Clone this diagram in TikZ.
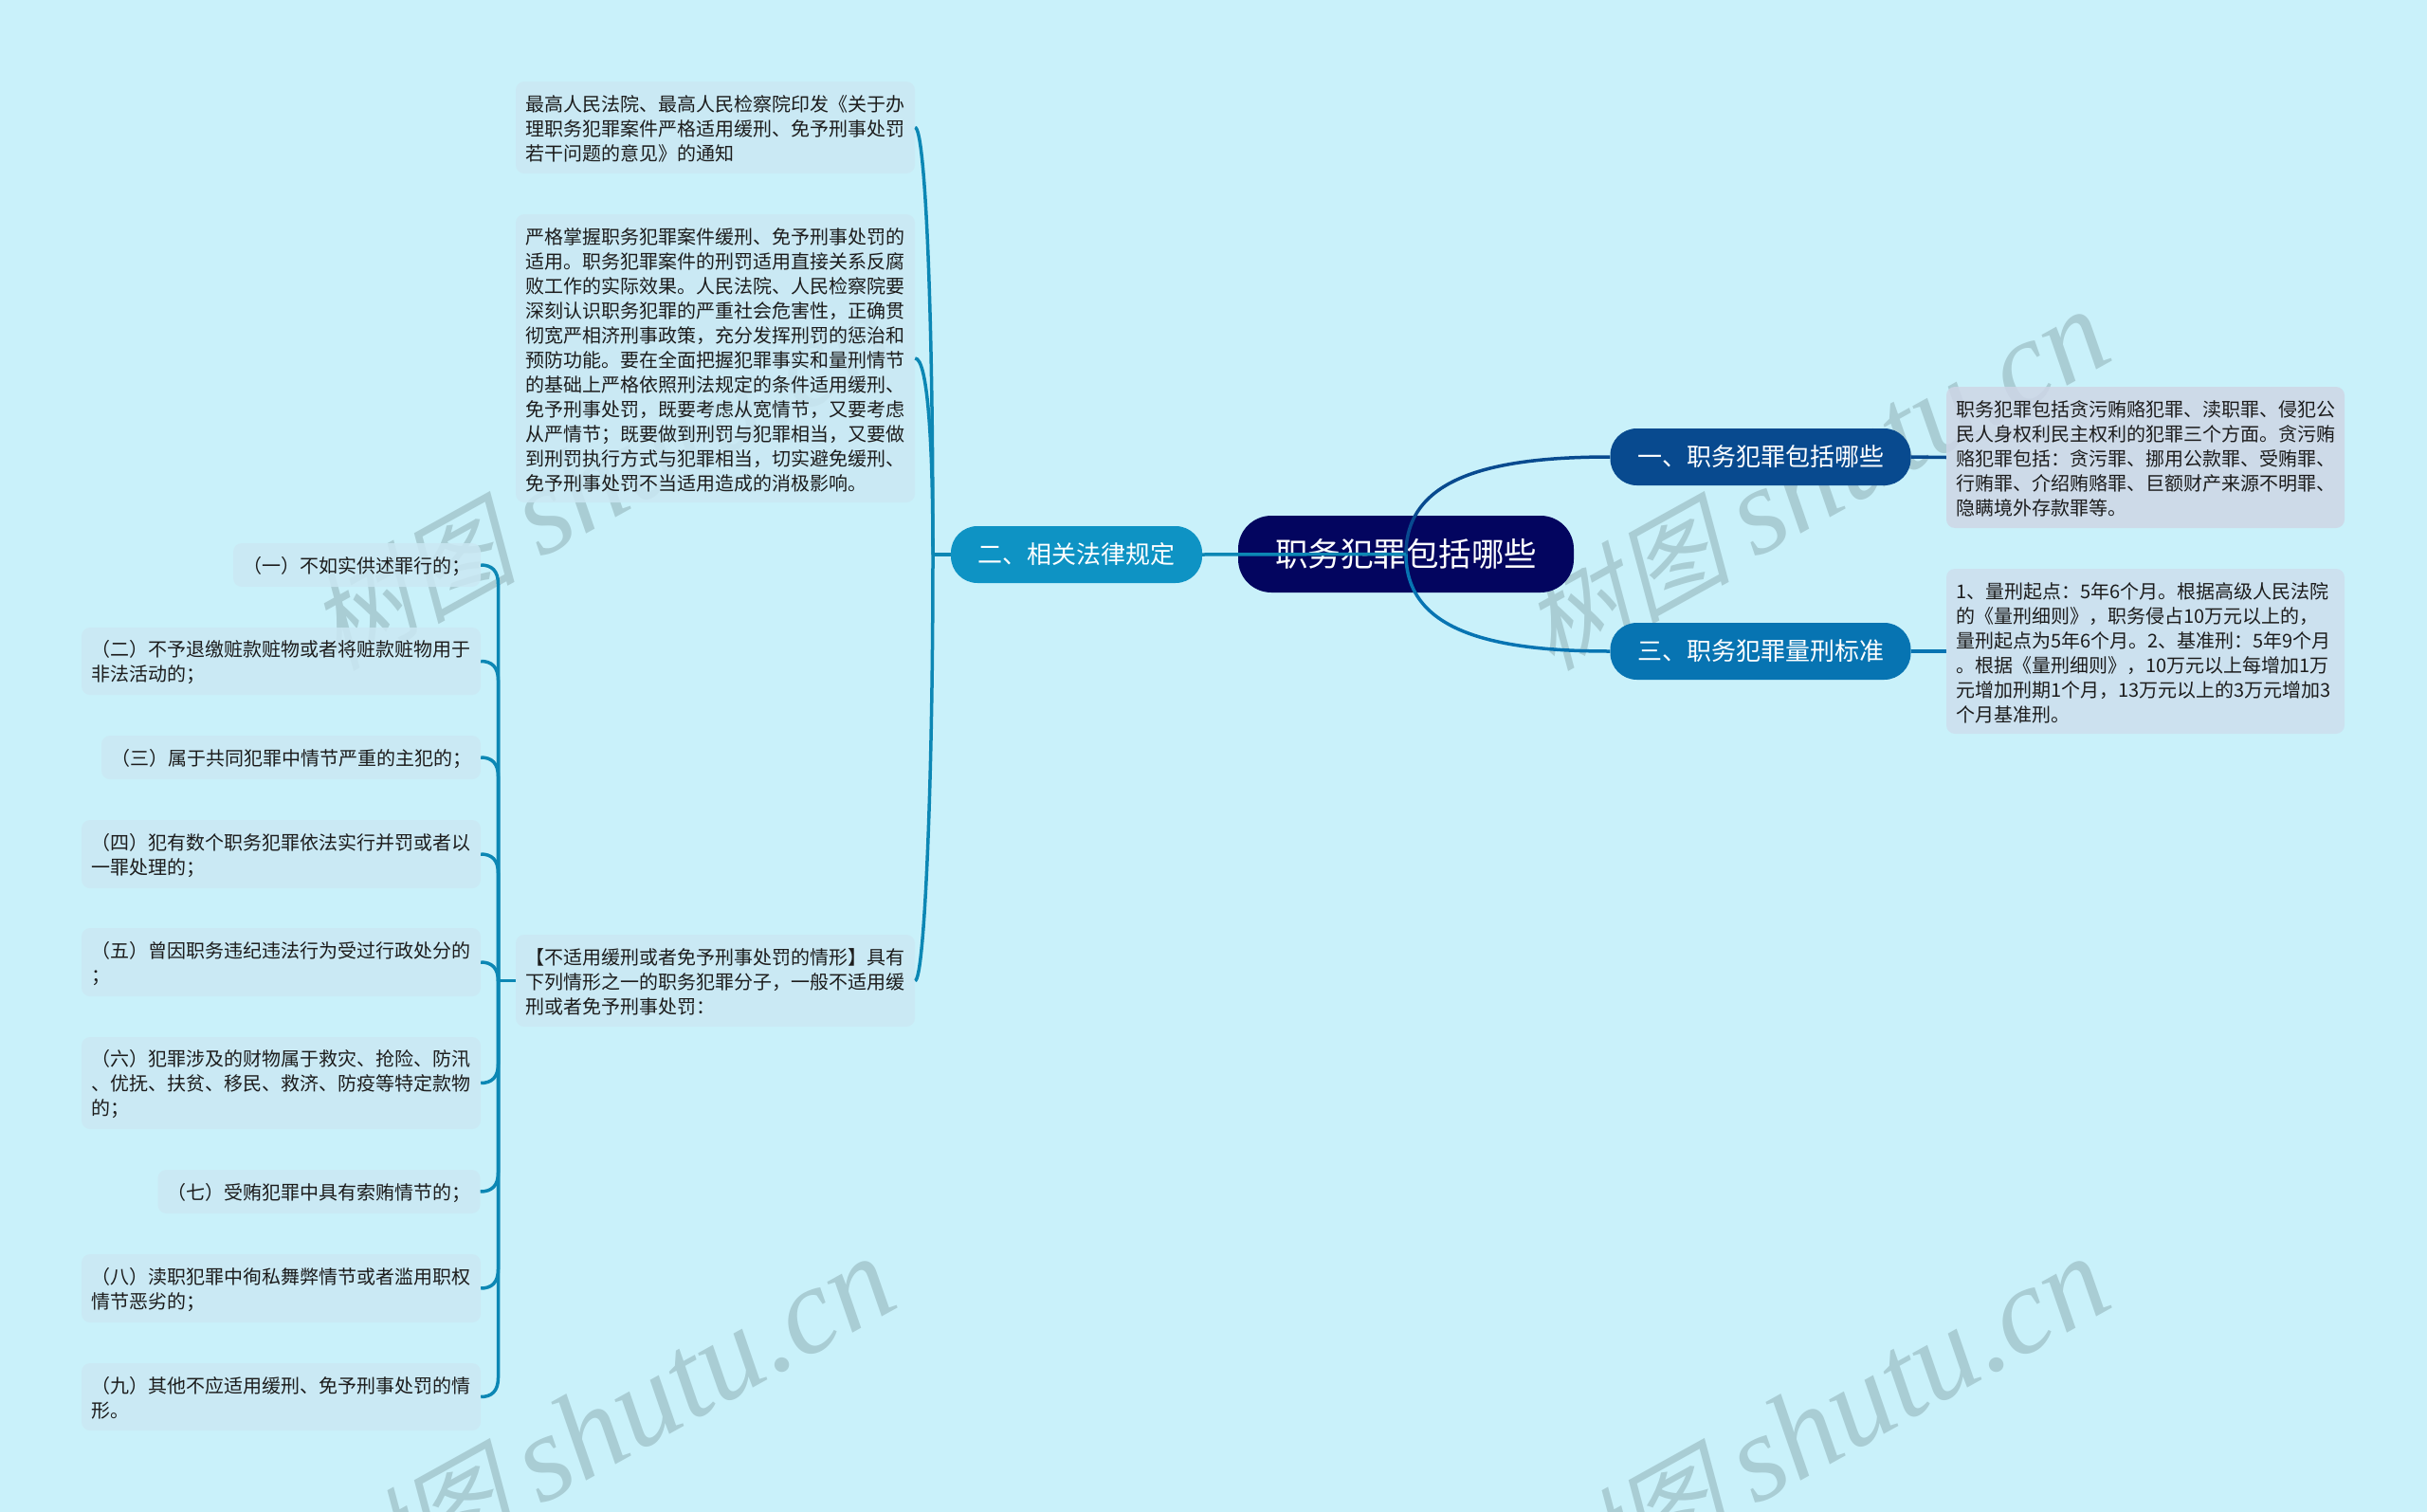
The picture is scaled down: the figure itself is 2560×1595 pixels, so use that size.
\documentclass[tikz,border=0pt]{standalone}
\usepackage{fontspec}
\usetikzlibrary{calc}
\setmainfont{Noto Sans CJK SC}
\newfontfamily\wmcjk[FakeSlant=0.25]{Noto Sans CJK SC}
\newfontfamily\wmlat{Liberation Serif}
\definecolor{bgc}{HTML}{C9F1FA}
\definecolor{wmc}{HTML}{A9CDD4}
\definecolor{rootc}{HTML}{03055F}
\definecolor{onec}{HTML}{084A8F}
\definecolor{threec}{HTML}{0774B2}
\definecolor{twoc}{HTML}{0E93C4}
\definecolor{linkc}{HTML}{0C87B4}
\definecolor{boxa}{HTML}{CED6E6}
\definecolor{boxb}{HTML}{CDDFEE}
\definecolor{boxc}{HTML}{CBE8F3}
\definecolor{txt}{HTML}{1C1C1C}
\tikzset{
  leaf/.style={rectangle,rounded corners=9pt,fill opacity=.85,text opacity=1,inner xsep=10pt,inner ysep=0pt,align=left,text=txt,font=\fontsize{20}{26}\selectfont,execute at end node={\par\vspace*{-3pt}}},
  pill/.style={rectangle,rounded corners=28pt,minimum width=#1,minimum height=60pt,inner sep=0pt,text=white,font=\fontsize{26}{30}\selectfont},
  rootnode/.style={rectangle,rounded corners=35pt,minimum width=354pt,minimum height=81pt,inner sep=0pt,fill=rootc,text=white,font=\fontsize{34.5}{40}\selectfont},
  wm/.style={rotate=29,anchor=base,text=wmc,inner sep=0pt},
  link/.style={line width=3.5pt,color=linkc},
  linkb/.style={line width=3.5pt}
}
\newcommand{\wmtext}{{\wmcjk\fontsize{110}{120}\selectfont 树图}\hspace{25pt}{\wmlat\itshape\fontsize{130}{132}\selectfont shutu.cn}}
\newcommand{\pilltext}[1]{\raisebox{-3pt}{#1}}
\newcommand{\kidup}[1]{\draw[link] (j) -- ($(j |- #1.east)+(0,20)$) .. controls ($(j |- #1.east)+(0,6)$) and ($(j |- #1.east)+(-7,0)$) .. (#1.east);}
\newcommand{\kiddown}[1]{\draw[link] (j) -- ($(j |- #1.east)+(0,-20)$) .. controls ($(j |- #1.east)+(0,-6)$) and ($(j |- #1.east)+(-7,0)$) .. (#1.east);}
\begin{document}
\begin{tikzpicture}[x=1pt,y=-1pt]
\clip (0,0) rectangle (2560,1595);
\fill[bgc] (0,0) rectangle (2560,1595);
% watermarks
\node[wm] (wma) at (654,543) {\wmtext};
\node[wm] (wmb) at (1935,543) {\wmtext};
\node[wm] (wmc) at (654,1542) {\wmtext};
\node[wm] (wmd) at (1935,1542) {\wmtext};
% root and main branches
\node[rootnode] (root) at (1483,584.5) {职务犯罪包括哪些};
\node[pill=317pt,fill=onec] (n1) at (1857,482) {\pilltext{一、职务犯罪包括哪些}};
\node[pill=317pt,fill=threec] (n3) at (1857,687) {\pilltext{三、职务犯罪量刑标准}};
\node[pill=265pt,fill=twoc] (n2) at (1135.5,585) {二、相关法律规定};
% right leaves
\node[leaf,fill=boxa,text width=400pt,minimum height=149pt] (r1) at (2263,482.5) {职务犯罪包括贪污贿赂犯罪、渎职罪、侵犯公\\民人身权利民主权利的犯罪三个方面。贪污贿\\赂犯罪包括：贪污罪、挪用公款罪、受贿罪、\\行贿罪、介绍贿赂罪、巨额财产来源不明罪、\\隐瞒境外存款罪等。};
\node[leaf,fill=boxb,text width=400pt,minimum height=174pt] (r2) at (2263,687) {1、量刑起点：5年6个月。根据高级人民法院\\的《量刑细则》，职务侵占10万元以上的，\\量刑起点为5年6个月。2、基准刑：5年9个月\\。根据《量刑细则》，10万元以上每增加1万\\元增加刑期1个月，13万元以上的3万元增加3\\个月基准刑。};
% middle leaves
\node[leaf,fill=boxc,text width=401pt,minimum height=97pt] (m1) at (754.5,134.5) {最高人民法院、最高人民检察院印发《关于办\\理职务犯罪案件严格适用缓刑、免予刑事处罚\\若干问题的意见》的通知};
\node[leaf,fill=boxc,text width=401pt,minimum height=304pt] (m2) at (754.5,378) {严格掌握职务犯罪案件缓刑、免予刑事处罚的\\适用。职务犯罪案件的刑罚适用直接关系反腐\\败工作的实际效果。人民法院、人民检察院要\\深刻认识职务犯罪的严重社会危害性，正确贯\\彻宽严相济刑事政策，充分发挥刑罚的惩治和\\预防功能。要在全面把握犯罪事实和量刑情节\\的基础上严格依照刑法规定的条件适用缓刑、\\免予刑事处罚，既要考虑从宽情节，又要考虑\\从严情节；既要做到刑罚与犯罪相当，又要做\\到刑罚执行方式与犯罪相当，切实避免缓刑、\\免予刑事处罚不当适用造成的消极影响。};
\node[leaf,fill=boxc,text width=401pt,minimum height=97pt] (m3) at (754.5,1034.5) {【不适用缓刑或者免予刑事处罚的情形】具有\\下列情形之一的职务犯罪分子，一般不适用缓\\刑或者免予刑事处罚：};
% left leaves
\node[leaf,fill=boxc,text width=241pt,minimum height=46pt] (k1) at (376.5,596) {（一）不如实供述罪行的；};
\node[leaf,fill=boxc,text width=401pt,minimum height=71pt] (k2) at (296.5,697.5) {（二）不予退缴赃款赃物或者将赃款赃物用于\\非法活动的；};
\node[leaf,fill=boxc,text width=380pt,minimum height=46pt] (k3) at (307,799) {（三）属于共同犯罪中情节严重的主犯的；};
\node[leaf,fill=boxc,text width=401pt,minimum height=72pt] (k4) at (296.5,901) {（四）犯有数个职务犯罪依法实行并罚或者以\\一罪处理的；};
\node[leaf,fill=boxc,text width=401pt,minimum height=72pt] (k5) at (296.5,1015) {（五）曾因职务违纪违法行为受过行政处分的\\；};
\node[leaf,fill=boxc,text width=401pt,minimum height=97pt] (k6) at (296.5,1142.5) {（六）犯罪涉及的财物属于救灾、抢险、防汛\\、优抚、扶贫、移民、救济、防疫等特定款物\\的；};
\node[leaf,fill=boxc,text width=320pt,minimum height=46pt] (k7) at (336.5,1257) {（七）受贿犯罪中具有索贿情节的；};
\node[leaf,fill=boxc,text width=401pt,minimum height=72pt] (k8) at (296.5,1359) {（八）渎职犯罪中徇私舞弊情节或者滥用职权\\情节恶劣的；};
\node[leaf,fill=boxc,text width=401pt,minimum height=71pt] (k9) at (296.5,1473.5) {（九）其他不应适用缓刑、免予刑事处罚的情\\形。};
% connectors
\coordinate (hub) at (984,585);
\coordinate (j) at (525.5,1034.5);
\draw[linkb,color=onec] (root.center) .. controls (1483,505) and (1570,482) .. (n1.west);
\draw[linkb,color=threec] (root.center) .. controls (1483,664) and (1570,687) .. (n3.west);
\draw[linkb,color=linkc] (root.center) -- (n2.east);
\draw[linkb,color=onec] (n1.east) -- (r1.west);
\draw[linkb,color=threec] (n3.east) -- (r2.west);
\draw[linkb,color=linkc] (n2.west) -- (hub);
\draw[link] (hub) .. controls (984,300) and (975,134.5) .. (m1.east);
\draw[link] (hub) .. controls (984,460) and (978,378) .. (m2.east);
\draw[link] (hub) .. controls (984,830) and (975,1034.5) .. (m3.east);
\draw[link] (m3.west) -- (j);
\kidup{k1}\kidup{k2}\kidup{k3}\kidup{k4}\kidup{k5}
\kiddown{k6}\kiddown{k7}\kiddown{k8}\kiddown{k9}
\end{tikzpicture}
\end{document}
